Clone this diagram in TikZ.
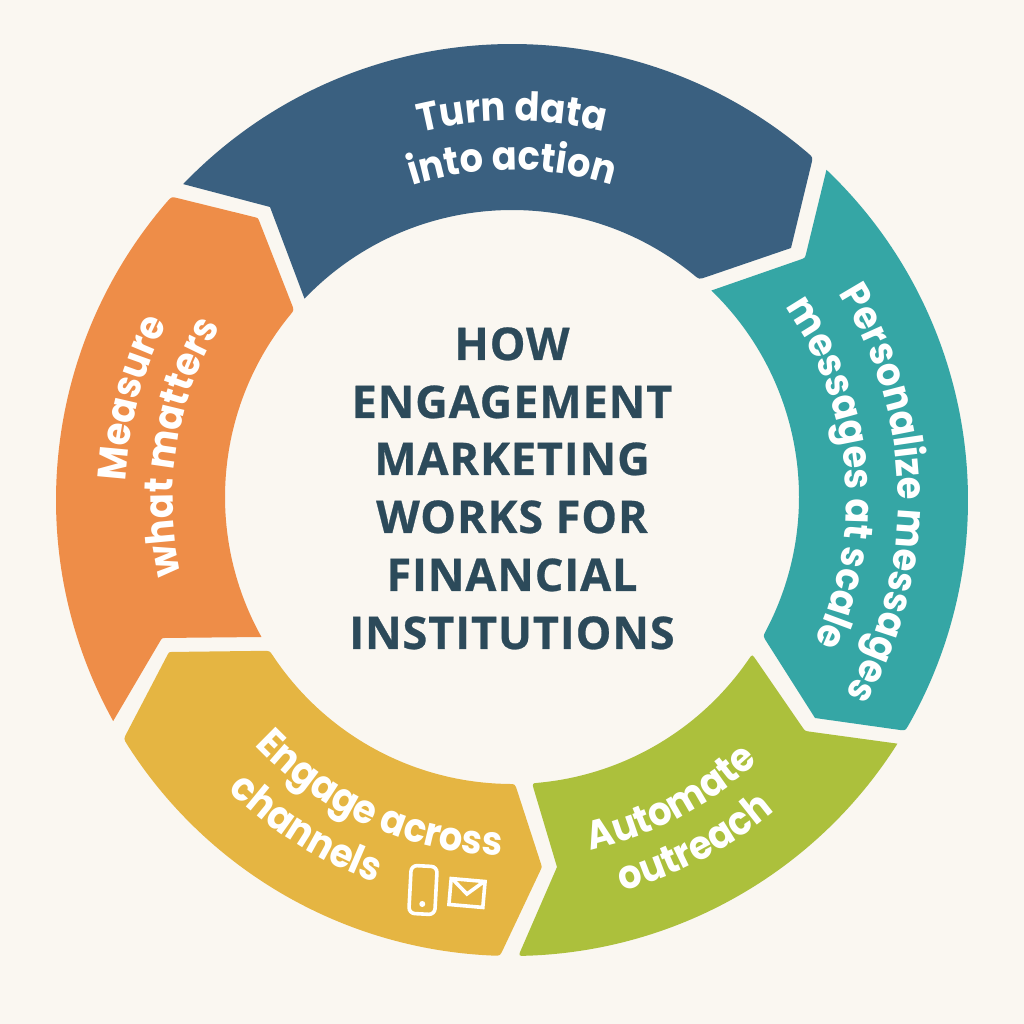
\documentclass[tikz,border=0pt]{standalone}
\usepackage{fontspec}
\usetikzlibrary{decorations.text,calc}
\setmainfont{Open Sans}
\newfontfamily\titlef[LetterSpace=2,BoldFeatures={FakeBold=0.6}]{Open Sans}
\newfontfamily\segf[FakeStretch=0.92]{Poppins}
\definecolor{bgc}{HTML}{FAF7F1}
\definecolor{bluec}{HTML}{3A6080}
\definecolor{tealc}{HTML}{35A6A5}
\definecolor{greenc}{HTML}{ACC03C}
\definecolor{yellowc}{HTML}{E5B542}
\definecolor{orangec}{HTML}{EE8D48}
\definecolor{titlec}{HTML}{2C4A5A}
\tikzset{
  titleline/.style={font=\titlef\bfseries\fontsize{45}{45}\selectfont,text=titlec,anchor=base},
  icon/.style={draw=white,line width=3.6pt,fill=none},
}
\newcommand{\curved}[5]{% radius, start, end, size, text
  \path[decorate,decoration={text along path,text align=center,
    text color=white,
    text={|\segf\bfseries\fontsize{#4}{#4}\selectfont|#5}}]
    ([shift={(#2:#1)}]O) arc[start angle=#2,end angle=#3,radius=#1];}
\begin{document}
\begin{tikzpicture}[x=1pt,y=1pt]
\useasboundingbox (0,0) rectangle (1024,1024);
\fill[bgc] (0,0) rectangle (1024,1024);
\coordinate (O) at (512,524);
\coordinate (I) at (512,527);
% blue
\coordinate (a) at ([shift={(136.15:456)}]O);
\coordinate (b) at ([shift={(48.7:456)}]O);
\coordinate (c) at (791,776);
\coordinate (d) at ([shift={(49.3:287)}]I);
\coordinate (f) at (270,817);
\fill[bluec] (a) arc[start angle=136.15,end angle=49.5,radius=456]
  .. controls (b) .. ($(b)!7pt!(c)$) -- (c) -- ($(d)!7pt!(c)$) .. controls (d) .. ([shift={(50.7:287)}]I)
  arc[start angle=50.7,end angle=136.3,radius=287] -- (f) -- cycle;
% teal
\coordinate (a) at ([shift={(46.4:456)}]O);
\coordinate (b) at ([shift={(-30.4:456)}]O);
\coordinate (c) at (815,306);
\coordinate (d) at ([shift={(-29:287)}]I);
\coordinate (e) at ([shift={(46:287)}]I);
\coordinate (f) at (805,766);
\fill[tealc] (a) arc[start angle=46.4,end angle=-29.6,radius=456]
  .. controls (b) .. ($(b)!7pt!(c)$) -- (c) -- ($(d)!7pt!(c)$) .. controls (d) .. ([shift={(-27.8:287)}]I)
  arc[start angle=-27.8,end angle=46,radius=287] -- ($(f)!5pt!(e)$) .. controls (f) .. ($(f)!5pt!(a)$) -- cycle;
% green
\coordinate (a) at ([shift={(-32.3:456)}]O);
\coordinate (b) at ([shift={(-89.2:456)}]O);
\coordinate (c) at (557,157);
\coordinate (d) at ([shift={(-86:287)}]I);
\coordinate (e) at ([shift={(-33.2:287)}]I);
\coordinate (f) at (805,293);
\fill[greenc] (a) arc[start angle=-32.3,end angle=-88.4,radius=456]
  .. controls (b) .. ($(b)!7pt!(c)$) -- (c) -- ($(d)!7pt!(c)$) .. controls (d) .. ([shift={(-84.8:287)}]I)
  arc[start angle=-84.8,end angle=-34.4,radius=287] .. controls (e) .. ($(e)!7pt!(f)$)
  -- ($(f)!5pt!(e)$) .. controls (f) .. ($(f)!5pt!(a)$) -- cycle;
% yellow
\coordinate (a) at ([shift={(-91.5:456)}]O);
\coordinate (b) at ([shift={(-148.4:456)}]O);
\coordinate (c) at (169,372);
\coordinate (d) at ([shift={(-147.6:287)}]I);
\coordinate (e) at ([shift={(-89.4:287)}]I);
\coordinate (f) at (542,157);
\fill[yellowc] ([shift={(-92.3:456)}]O) arc[start angle=-92.3,end angle=-147.6,radius=456]
  .. controls (b) .. ($(b)!7pt!(c)$) -- ($(c)!4pt!(b)$) .. controls (c) .. ($(c)!4pt!(d)$)
  -- ($(d)!7pt!(c)$) .. controls (d) .. ([shift={(-146.4:287)}]I)
  arc[start angle=-146.4,end angle=-90.6,radius=287] .. controls (e) .. ($(e)!7pt!(f)$)
  -- ($(f)!3pt!(e)$) .. controls (f) .. ($(f)!3pt!(a)$) -- ($(a)!7pt!(f)$) .. controls (a) .. cycle;
% orange
\coordinate (a) at ([shift={(209:456)}]O);
\coordinate (b) at ([shift={(138.3:456)}]O);
\coordinate (c) at (258,806);
\coordinate (d) at ([shift={(139.4:287)}]I);
\coordinate (e) at ([shift={(209.2:287)}]I);
\coordinate (f) at (162,386);
\fill[orangec] (a) arc[start angle=209,end angle=139.1,radius=456]
  .. controls (b) .. ($(b)!7pt!(c)$) -- ($(c)!4pt!(b)$) .. controls (c) .. ($(c)!4pt!(d)$)
  -- ($(d)!7pt!(c)$) .. controls (d) .. ([shift={(140.6:287)}]I)
  arc[start angle=140.6,end angle=209.2,radius=287] -- ($(f)!4pt!(e)$) .. controls (f) .. ($(f)!4pt!(a)$) -- cycle;
% title
\node[titleline] (t1) at (512,664) {HOW};
\node[titleline] (t2) at (512,606) {ENGAGEMENT};
\node[titleline] (t3) at (512,549) {MARKETING};
\node[titleline] (t4) at (512,491) {WORKS FOR};
\node[titleline] (t5) at (512,433) {FINANCIAL};
\node[titleline] (t6) at (512,375) {INSTITUTIONS};
% segment labels
\curved{379}{130}{50}{40}{Turn data}
\curved{330}{135}{45}{40}{into action}
\curved{386}{41}{-39}{40}{Personalize messages}
\curved{334}{45}{-35}{40}{messages at scale}
\curved{359}{-101}{-23}{40}{Automate}
\curved{407}{-102}{-22}{40}{outreach}
\curved{356}{-152}{-76}{40}{Engage across}
\curved{406}{-162}{-82}{40}{channels}
\curved{387}{205}{125}{40}{Measure}
\curved{339}{211}{131}{40}{what matters}
% icons
\begin{scope}[shift={(423,134)},rotate=-3]
\draw[icon,rounded corners=6pt] (-13,-24) rectangle (13,24);
\fill[white] (0,-14) circle (3);
\end{scope}
\begin{scope}[shift={(467,131)},rotate=-5]
\draw[icon] (-17,-13) rectangle (17,13);
\draw[icon] (-15,12) -- (0,-1) -- (15,12);
\end{scope}
\end{tikzpicture}
\end{document}
